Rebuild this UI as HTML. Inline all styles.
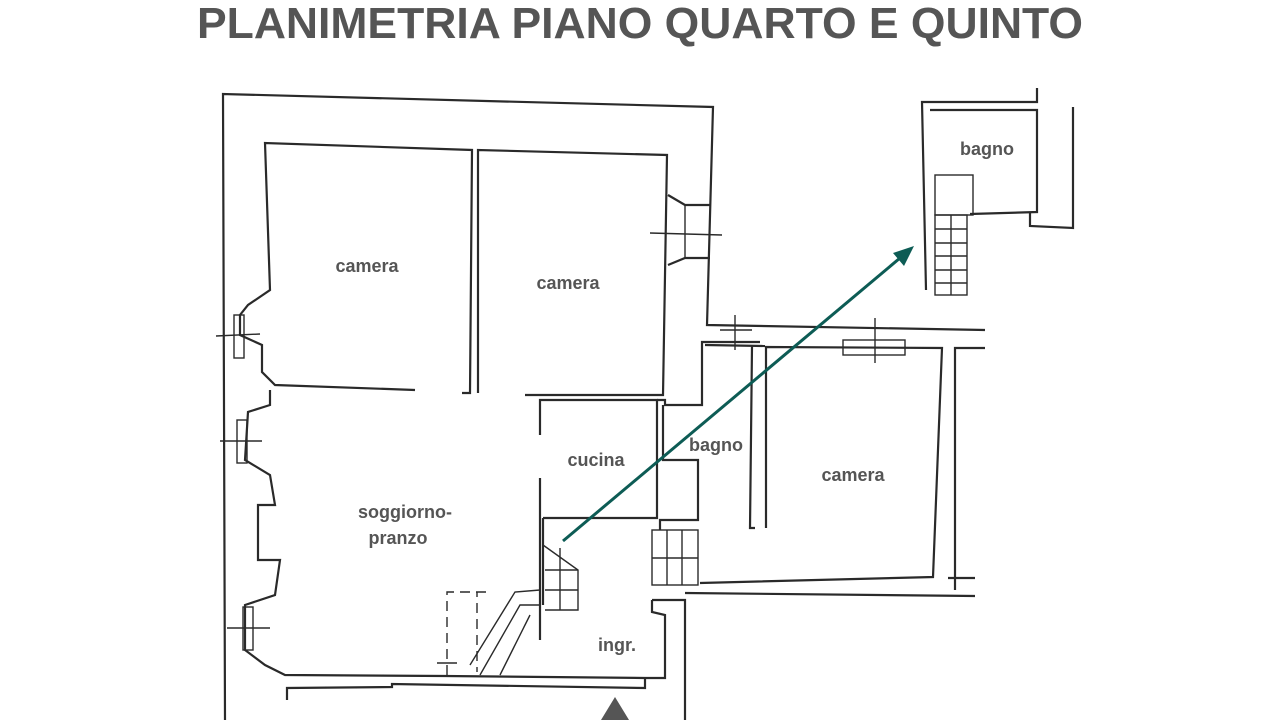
<!DOCTYPE html>
<html><head><meta charset="utf-8"><style>
html,body{margin:0;padding:0;background:#fff;}
svg{display:block;}
.w{fill:none;stroke:#2a2a2a;stroke-width:2.2;stroke-linejoin:miter;}
.t{stroke:#2a2a2a;stroke-width:1.4;fill:none;}
.l{font-family:"Liberation Sans",sans-serif;font-size:18px;fill:#555;text-anchor:middle;font-weight:bold;}
</style></head><body>
<svg width="1280" height="720" viewBox="0 0 1280 720" xmlns="http://www.w3.org/2000/svg">
<text x="640" y="38" textLength="886" lengthAdjust="spacingAndGlyphs" style="font-family:'Liberation Sans',sans-serif;font-size:44px;font-weight:bold;fill:#555;text-anchor:middle">PLANIMETRIA PIANO QUARTO E QUINTO</text>

<!-- outer shell -->
<polyline class="w" points="225,720 223,94 713,107 707,325 985,330"/>
<polyline class="w" points="705,345 765,346"/>
<polyline class="w" points="766,528 766,347 942,348 933,577 700,583"/>
<polyline class="w" points="955,590 955,348 985,348"/>
<polyline class="w" points="948,578 975,578"/>
<polyline class="w" points="652,600 685,600 685,720"/>
<polyline class="w" points="685,593 975,596"/>
<polyline class="w" points="755,528 750,528 752,346"/>

<!-- left camera -->
<polyline class="w" points="415,390 275,385 262,372 262,345 240,335 240,315 248,305 270,290 265,143 472,150 470,393 462,393"/>
<!-- right camera -->
<polyline class="w" points="478,393 478,150 667,155 663,395 525,395"/>
<polyline class="w" points="668,195 685,205 710,205"/>
<polyline class="w" points="668,265 685,258 710,258"/>
<polyline class="t" points="650,233 722,235"/>
<polyline class="t" points="685,205 685,258"/>
<!-- cucina -->
<polyline class="w" points="540,435 540,400 657,400 657,518 543,518"/>
<polyline class="w" points="540,478 540,640"/>
<polyline class="w" points="543,518 543,605"/>
<!-- bagno middle -->
<polyline class="w" points="657,400 665,400 665,405 702,405 702,342 760,342"/>
<polyline class="w" points="663,405 663,460 698,460 698,520 660,520 660,530"/>
<!-- stairs mid -->
<g class="t"><rect x="652" y="530" width="46" height="55"/><line x1="667" y1="530" x2="667" y2="585"/><line x1="682" y1="530" x2="682" y2="585"/><line x1="652" y1="558" x2="698" y2="558"/></g>
<g class="t"><polyline points="735,315 735,350"/><polyline points="720,330 752,330"/><rect x="843" y="340" width="62" height="15"/><line x1="875" y1="318" x2="875" y2="363"/></g>

<!-- soggiorno left wall -->
<polyline class="w" points="270,390 270,405 248,412 245,460 270,475 275,505 258,505 258,560 280,560 275,595 245,605 245,650 265,665 285,675 445,676 645,678"/>
<g class="t"><rect x="234" y="315" width="10" height="43"/><line x1="216" y1="336" x2="260" y2="334"/>
<rect x="237" y="420" width="10" height="43"/><line x1="220" y1="441" x2="262" y2="441"/>
<rect x="243" y="607" width="10" height="43"/><line x1="227" y1="628" x2="270" y2="628"/></g>
<polyline class="w" points="287,700 287,688 392,687 392,684 645,688 645,678"/>
<!-- stairs soggiorno -->
<g class="t"><polyline points="543,545 578,570 578,610 545,610"/><line x1="545" y1="570" x2="578" y2="570"/><line x1="545" y1="590" x2="578" y2="590"/><line x1="560" y1="548" x2="560" y2="610"/>
<polyline points="540,590 515,592 470,665"/><polyline points="540,605 520,605 480,675"/><polyline points="530,615 500,675"/>
<polyline stroke-dasharray="10,6" points="447,675 447,592 487,592 477,592 477,672"/><line x1="437" y1="663" x2="457" y2="663"/></g>
<!-- ingr right -->
<polyline class="w" points="645,678 665,678 665,615 652,612 652,600"/>
<!-- upper right bagno -->
<polyline class="w" points="926,290 922,102 1037,102 1037,88"/>
<polyline class="w" points="930,110 1037,110 1037,212 970,214"/>
<polyline class="w" points="1073,107 1073,228 1030,226 1030,212"/>
<g class="t"><rect x="935" y="175" width="38" height="40"/><rect x="935" y="215" width="32" height="80"/><line x1="951" y1="215" x2="951" y2="295"/><line x1="935" y1="229" x2="967" y2="229"/><line x1="935" y1="243" x2="967" y2="243"/><line x1="935" y1="256" x2="967" y2="256"/><line x1="935" y1="270" x2="967" y2="270"/><line x1="935" y1="283" x2="967" y2="283"/></g>

<!-- arrow -->
<line x1="563" y1="541" x2="900" y2="258" stroke="#0d5c55" stroke-width="3"/>
<polygon points="914,246 893,253 904,266" fill="#0d5c55"/>
<polygon points="615,697 601,720 629,720" fill="#555"/>

<text class="l" x="367" y="272">camera</text>
<text class="l" x="568" y="289">camera</text>
<text class="l" x="596" y="466">cucina</text>
<text class="l" x="716" y="451">bagno</text>
<text class="l" x="853" y="481">camera</text>
<text class="l" x="405" y="518">soggiorno-</text>
<text class="l" x="398" y="544">pranzo</text>
<text class="l" x="617" y="651">ingr.</text>
<text class="l" x="987" y="155">bagno</text>
</svg>
</body></html>
